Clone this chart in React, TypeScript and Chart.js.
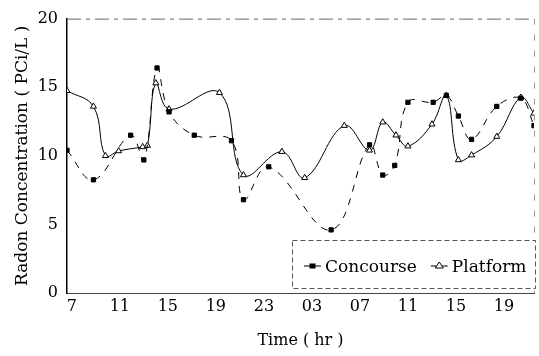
import { useEffect, useRef } from "react";
import { Chart, registerables } from "chart.js";
Chart.register(...registerables);

// Hours counted continuously from the first day (day 2 hours = 24 + h)
const concourseHours = [6.6, 8.8, 11.9, 13.0, 14.1, 15.1, 17.2, 20.3, 21.3, 23.4, 28.6, 31.8, 32.9, 33.9, 35.0, 37.1, 38.2, 39.2, 40.3, 42.4, 44.4, 45.5];
const concourseValues = [10.4, 8.25, 11.5, 9.7, 16.4, 13.2, 11.5, 11.1, 6.8, 9.2, 4.6, 10.8, 8.6, 9.3, 13.9, 13.9, 14.4, 12.9, 11.2, 13.6, 14.2, 12.2];

const platformHours = [6.6, 8.8, 9.8, 10.9, 12.9, 13.3, 14.0, 15.1, 19.3, 21.3, 24.5, 26.4, 29.7, 31.8, 32.9, 34.0, 35.0, 37.0, 38.2, 39.2, 40.3, 42.4, 44.4, 45.5];
const platformValues = [14.75, 13.6, 10.0, 10.35, 10.65, 10.75, 15.3, 13.4, 14.6, 8.6, 10.3, 8.4, 12.2, 10.4, 12.45, 11.5, 10.7, 12.3, 14.4, 9.7, 10.05, 11.4, 14.25, 13.1];

const xTickValues = [7, 11, 15, 19, 23, 27, 31, 35, 39, 43];
const xTickLabels = ["7", "11", "15", "19", "23", "03", "07", "11", "15", "19"];
const yTickValues = [0, 5, 10, 15, 20];

const FONT = "'DejaVu Serif', 'Liberation Serif', serif";

const legendPlugin = {
  id: "boxLegend",
  afterDraw(chart: any) {
    const { ctx, chartArea } = chart;
    const x0 = chartArea.left + 225;
    const y0 = 240;
    const x1 = chartArea.right + 1;
    const y1 = 288;
    ctx.save();
    ctx.fillStyle = "#ffffff";
    ctx.fillRect(x0, y0, x1 - x0, y1 - y0);
    ctx.setLineDash([5, 3]);
    ctx.strokeStyle = "#555";
    ctx.lineWidth = 1;
    ctx.strokeRect(x0 + 0.5, y0 + 0.5, x1 - x0, y1 - y0);
    ctx.setLineDash([]);
    ctx.font = "17px " + FONT;
    ctx.textBaseline = "alphabetic";
    ctx.fillStyle = "#000";
    const cy = 266;
    let x = x0 + 12;
    chart.data.datasets.forEach((ds: any) => {
      ctx.strokeStyle = "#000";
      ctx.lineWidth = 1;
      ctx.beginPath();
      ctx.moveTo(x, cy);
      ctx.lineTo(x + 17, cy);
      ctx.stroke();
      const mx = x + 8.5;
      if (ds.pointStyle === "rect") {
        ctx.fillStyle = "#000";
        ctx.fillRect(mx - 3, cy - 2.5, 6, 5);
      } else {
        ctx.fillStyle = "#fff";
        ctx.beginPath();
        ctx.moveTo(mx, cy - 4);
        ctx.lineTo(mx + 4, cy + 2);
        ctx.lineTo(mx - 4, cy + 2);
        ctx.closePath();
        ctx.fill();
        ctx.stroke();
      }
      ctx.fillStyle = "#000";
      ctx.fillText(ds.label, x + 21, cy + 6);
      x += 21 + ctx.measureText(ds.label).width + 14;
    });
    ctx.restore();
  },
};

const framePlugin = {
  id: "frame",
  beforeDatasetsDraw(chart: any) {
    const { ctx, chartArea } = chart;
    ctx.save();
    ctx.strokeStyle = "#666";
    ctx.lineWidth = 1;
    ctx.setLineDash([14, 5, 4, 5]);
    ctx.beginPath();
    ctx.moveTo(chartArea.left, chartArea.top + 0.5);
    ctx.lineTo(chartArea.right, chartArea.top + 0.5);
    ctx.stroke();
    ctx.setLineDash([6, 10]);
    ctx.strokeStyle = "#999";
    ctx.beginPath();
    ctx.moveTo(chartArea.right + 0.5, chartArea.top);
    ctx.lineTo(chartArea.right + 0.5, chartArea.bottom);
    ctx.stroke();
    ctx.restore();
  },
};

export default function App() {
  const ref = useRef<HTMLCanvasElement>(null);
  useEffect(() => {
    if (!ref.current) return;
    const chart = new Chart(ref.current, {
      type: "line",
      data: {
        datasets: [
          {
            label: "Concourse",
            data: concourseHours.map((h, i) => ({ x: h, y: concourseValues[i] })),
            borderColor: "#000",
            borderWidth: 1,
            borderDash: [7, 7],
            tension: 0.4,
            pointStyle: "rect",
            pointRadius: 3,
            pointBackgroundColor: "#000",
            pointBorderColor: "#000",
            pointBorderWidth: 1,
          },
          {
            label: "Platform",
            data: platformHours.map((h, i) => ({ x: h, y: platformValues[i] })),
            borderColor: "#000",
            borderWidth: 1,
            tension: 0.4,
            pointStyle: "triangle",
            pointRadius: 3.5,
            pointBackgroundColor: "#fff",
            pointBorderColor: "#000",
            pointBorderWidth: 1,
          },
        ],
      },
      options: {
        animation: false,
        responsive: true,
        maintainAspectRatio: false,
        layout: { padding: { top: 15, right: 2, left: 0, bottom: 0 } },
        plugins: { legend: { display: false }, tooltip: { enabled: false } },
        scales: {
          x: {
            type: "linear",
            min: 6.6,
            max: 45.5,
            afterBuildTicks: (scale: any) => {
              scale.ticks = xTickValues.map((v) => ({ value: v }));
            },
            afterFit: (scale: any) => {
              scale.height = 63;
            },
            grid: { display: false, drawTicks: false },
            border: { display: true, color: "#444", width: 1, dash: [14, 3] },
            ticks: {
              autoSkip: false,
              maxRotation: 0,
              padding: 4,
              color: "#000",
              font: { family: FONT, size: 16 },
              callback: (_v: any, i: number) => xTickLabels[i],
            },
            title: {
              display: true,
              text: "Time ( hr )",
              color: "#000",
              font: { family: FONT, size: 16 },
              padding: { top: 0, bottom: 6 },
            },
          },
          y: {
            min: 0,
            max: 20,
            afterBuildTicks: (scale: any) => {
              scale.ticks = yTickValues.map((v) => ({ value: v }));
            },
            afterFit: (scale: any) => {
              scale.width = 67;
            },
            grid: { display: false, drawTicks: false },
            border: { display: true, color: "#000", width: 1.5 },
            ticks: {
              padding: 9,
              color: "#000",
              font: { family: FONT, size: 16 },
            },
            title: {
              display: true,
              text: "Radon Concentration ( PCi/L )",
              color: "#000",
              font: { family: FONT, size: 17 },
              padding: { top: 12, bottom: 0 },
            },
          },
        },
      },
      plugins: [framePlugin, legendPlugin],
    });
    return () => chart.destroy();
  }, []);
  return (
    <div style={{ position: "absolute", left: 0, top: 0, width: 539, height: 356, background: "#fff" }}>
      <canvas ref={ref} />
    </div>
  );
}
